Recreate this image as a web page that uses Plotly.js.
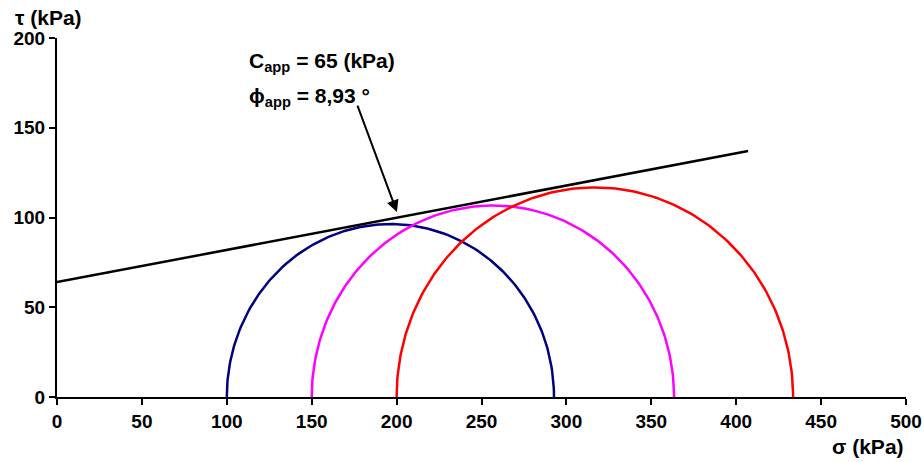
<!DOCTYPE html>
<html><head><meta charset="utf-8">
<script src="https://cdn.plot.ly/plotly-3.0.1.min.js"></script>
<style>body{margin:0;background:#fff}#c{width:924px;height:462px}</style>
</head><body><div id="c"></div>
<script>
// Mohr circles: minor and major principal stresses (kPa)
const sigma3 = [100, 150, 200];
const sigma1 = [292.7, 363.4, 433.5];
const circleColors = ['#000080', '#FF00FF', '#FF0000'];
// Failure envelope (two end points)
const envSigma = [0, 407];
const envTau = [64, 137];
const xTicks = [0, 50, 100, 150, 200, 250, 300, 350, 400, 450, 500];
const yTicks = [0, 50, 100, 150, 200];

const traces = [];
for (let i = 0; i < sigma3.length; i++) {
  const c = (sigma1[i] + sigma3[i]) / 2, r = (sigma1[i] - sigma3[i]) / 2;
  const xs = [], ys = [];
  for (let k = 0; k <= 180; k++) {
    const t = Math.PI - k * Math.PI / 180;
    xs.push(c + r * Math.cos(t)); ys.push(r * Math.sin(t));
  }
  traces.push({x: xs, y: ys, mode: 'lines', line: {color: circleColors[i], width: 2.5}, hoverinfo: 'skip', cliponaxis: false});
}
traces.push({x: envSigma, y: envTau, mode: 'lines', line: {color: '#000', width: 2.5}, hoverinfo: 'skip', cliponaxis: false});

const F = 'Liberation Sans, Arial, sans-serif';
const layout = {
  width: 924, height: 462,
  margin: {l: 57, r: 18, t: 38, b: 65},
  paper_bgcolor: '#fff', plot_bgcolor: '#fff',
  showlegend: false,
  xaxis: {range: [0, 500], tickvals: xTicks, ticktext: xTicks.map(String), showgrid: false, zeroline: false,
    showline: true, linecolor: '#000', linewidth: 2, ticks: 'outside', ticklen: 6, tickwidth: 2, tickcolor: '#000',
    tickfont: {family: F, size: 19, color: '#000', weight: 'bold'}},
  yaxis: {range: [0, 200], tickvals: yTicks, ticktext: yTicks.map(String), showgrid: false, zeroline: false,
    showline: true, linecolor: '#000', linewidth: 2, ticks: 'outside', ticklen: 6, tickwidth: 2, tickcolor: '#000',
    tickfont: {family: F, size: 19, color: '#000', weight: 'bold'}},
  annotations: [
    {xref: 'paper', yref: 'paper', x: -0.052, y: 1.058, xanchor: 'left', yanchor: 'middle', showarrow: false,
      text: 'τ (kPa)', font: {family: F, size: 21, color: '#000', weight: 'bold'}},
    {xref: 'paper', yref: 'paper', x: 1.0, y: -0.139, xanchor: 'right', yanchor: 'middle', showarrow: false,
      text: 'σ (kPa)', font: {family: F, size: 21, color: '#000', weight: 'bold'}},
    {x: 111.9, y: 186.6, xanchor: 'left', yanchor: 'middle', showarrow: false,
      text: 'C<sub>app</sub> = 65 (kPa)', font: {family: F, size: 21, color: '#000', weight: 'bold'}},
    {x: 111.9, y: 167.1, xanchor: 'left', yanchor: 'middle', showarrow: false,
      text: 'ϕ<sub>app</sub> = 8,93 °', font: {family: F, size: 21, color: '#000', weight: 'bold'}},
    {x: 200.2, y: 103, ax: -40, ay: -108, showarrow: true, arrowhead: 2, arrowsize: 1.2, arrowwidth: 2, arrowcolor: '#000', text: ''}
  ]
};
Plotly.newPlot('c', traces, layout, {staticPlot: true});
</script></body></html>
